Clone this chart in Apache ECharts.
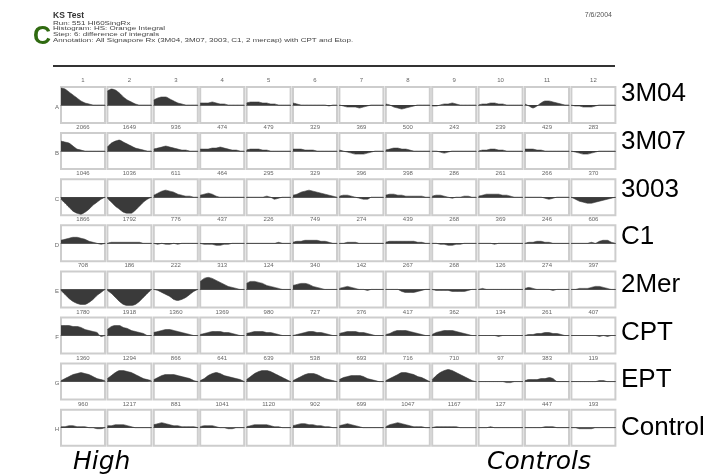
<!DOCTYPE html>
<html>
<head>
<meta charset="utf-8">
<script src="https://cdn.jsdelivr.net/npm/echarts@6/dist/echarts.min.js"></script>
<style>
  html, body { margin: 0; padding: 0; background: #fff; }
  #chart { width: 709px; height: 475px; }
</style>
</head>
<body>
<div id="chart"></div>
<script>
// column numbers, row letters, compound names
const colLabels = ['1','2','3','4','5','6','7','8','9','10','11','12'];
const rowLetters = ['A','B','C','D','E','F','G','H'];
const rowNames = ['3M04','3M07','3003','C1','2Mer','CPT','EPT','Control'];

// counts printed under each cell (rows A..G)
const countsA = [2066,1649,936,474,479,329,369,500,243,239,429,283];
const countsB = [1046,1036,611,464,295,329,396,398,286,261,266,370];
const countsC = [1866,1792,776,437,226,749,274,439,268,369,246,606];
const countsD = [708,186,222,313,124,340,142,267,268,126,274,397];
const countsE = [1780,1918,1360,1369,980,727,376,417,362,134,261,407];
const countsF = [1360,1294,866,641,639,538,693,716,710,97,383,119];
const countsG = [960,1217,881,1041,1120,902,699,1047,1167,127,447,193];

// difference-of-integrals curves, 12 samples per cell
const rowA = [
  [17,16,13,10,7,4,2,1,0,0,0,0],
  [14,16,15,12,8,5,3,1,0,0,0,0],
  [5,7,8,8,6,4,2,1,0,0,0,0],
  [2,2,2,3,2,1,1,0,0,0,0,0],
  [2,3,3,3,2,2,1,1,0,0,0,0],
  [2,1,0,0,0,0,0,0,0,-1,0,0],
  [0,-1,-2,-2,-2,-3,-2,-1,0,0,0,0],
  [1,0,-2,-3,-4,-3,-2,-1,0,0,0,0],
  [-1,-1,0,1,1,2,1,0,0,0,0,0],
  [0,1,1,2,2,1,1,0,0,0,0,0],
  [1,-1,-3,-1,2,4,4,3,2,1,0,0],
  [0,-1,-1,-2,-2,-2,-1,0,0,0,0,0]
];
const rowB = [
  [10,9,8,5,2,1,0,0,0,0,0,0],
  [4,8,10,11,9,7,5,3,2,1,0,0],
  [2,3,4,5,4,3,2,1,1,0,0,0],
  [2,2,2,3,3,4,3,2,1,1,0,0],
  [1,2,2,2,1,1,0,0,0,0,0,0],
  [2,2,2,1,1,1,0,0,0,0,0,0],
  [1,0,-1,-2,-3,-3,-3,-2,-1,0,0,0],
  [1,2,3,3,2,2,1,0,0,0,0,0],
  [0,0,-1,-2,-1,0,0,0,0,0,0,0],
  [0,1,1,2,2,1,1,0,0,0,0,0],
  [2,2,2,1,1,0,0,0,0,0,0,0],
  [0,-1,-2,-3,-3,-2,-1,0,0,0,0,0]
];
const rowC = [
  [-2,-6,-10,-14,-16,-17,-15,-12,-8,-5,-2,0],
  [-1,-5,-9,-12,-15,-16,-16,-13,-9,-5,-2,0],
  [2,4,6,7,6,5,3,2,1,1,0,0],
  [2,3,4,3,1,0,0,0,0,0,0,0],
  [0,0,0,0,0,1,0,-2,-1,0,0,0],
  [2,3,5,6,7,6,5,4,3,2,1,0],
  [1,2,2,1,0,-1,-2,-2,0,0,0,0],
  [2,3,3,2,2,1,1,1,1,1,0,0],
  [1,2,2,1,0,-1,0,0,1,1,0,0],
  [1,2,3,3,3,3,2,2,1,0,0,0],
  [0,0,0,0,0,-1,-2,-1,0,0,0,0],
  [0,-2,-4,-5,-6,-6,-5,-4,-3,-2,-1,0]
];
const rowD = [
  [3,4,5,6,6,5,4,2,1,0,-1,0],
  [0,1,1,1,1,1,1,1,1,0,0,0],
  [0,-1,0,-1,-1,0,-1,0,0,0,0,0],
  [0,-1,-1,-1,-2,-2,-1,-1,0,0,0,0],
  [0,0,0,0,0,0,0,0,1,0,0,0],
  [1,2,2,3,3,3,3,2,2,1,0,0],
  [0,0,1,1,1,0,0,0,0,0,0,0],
  [1,2,2,2,2,2,2,2,1,1,0,0],
  [0,0,-1,-1,-2,-2,-1,-1,0,0,0,0],
  [0,0,0,0,-1,0,0,0,0,0,0,0],
  [0,1,1,2,2,1,1,0,0,0,0,0],
  [0,0,0,0,0,1,0,2,3,3,1,0]
];
const rowE = [
  [-1,-5,-9,-12,-14,-15,-15,-13,-10,-6,-3,0],
  [-1,-4,-8,-12,-15,-16,-16,-15,-12,-8,-4,0],
  [0,-1,-3,-5,-7,-10,-11,-10,-8,-5,-2,0],
  [8,11,12,11,9,7,5,3,2,1,0,0],
  [6,8,8,7,6,4,3,2,1,0,0,0],
  [4,5,6,6,5,3,2,1,0,0,0,0],
  [1,2,3,2,1,0,0,-1,0,0,0,0],
  [0,0,0,0,-2,-3,-3,-3,-2,-1,0,0],
  [0,-1,-1,-1,-1,-2,-2,-2,-2,-1,0,0],
  [0,1,0,0,0,0,0,0,0,0,0,0],
  [1,2,1,0,0,0,0,-1,0,0,0,0],
  [0,0,1,1,1,2,3,3,2,1,0,0]
];
const rowF = [
  [10,10,10,9,9,8,6,5,4,3,-1,0],
  [6,9,10,10,8,7,5,4,3,2,0,0],
  [3,4,5,6,6,5,4,3,2,1,0,0],
  [1,2,3,4,4,4,3,3,2,1,0,0],
  [2,3,4,4,4,3,3,2,1,0,0,0],
  [0,1,2,3,4,4,3,3,2,1,0,0],
  [2,3,4,4,4,3,3,2,1,0,0,0],
  [1,2,4,5,5,5,4,3,2,1,0,0],
  [1,3,4,5,5,5,4,3,2,1,0,0],
  [0,0,0,0,0,-1,0,0,0,0,0,0],
  [0,1,1,2,2,3,3,2,2,1,0,0],
  [0,0,0,0,0,0,0,-1,0,-1,0,0]
];
const rowG = [
  [1,3,5,7,8,9,8,7,5,3,2,1],
  [3,6,9,11,11,10,9,7,5,3,2,1],
  [2,4,6,7,7,7,6,5,4,3,1,0],
  [1,3,6,8,9,8,6,5,4,3,2,0],
  [2,5,8,10,11,11,10,8,6,4,2,0],
  [1,3,5,7,8,8,7,5,3,2,1,0],
  [2,4,5,6,6,6,5,3,2,1,0,0],
  [1,3,5,7,9,9,8,7,5,4,2,0],
  [2,6,9,11,12,11,9,7,5,3,1,0],
  [0,0,0,0,0,0,0,-1,-1,0,0,0],
  [1,2,2,2,3,3,4,3,0,0,0,0],
  [0,0,0,0,0,0,0,1,1,0,0,0]
];
const rowH = [
  [1,1,2,2,1,1,1,0,0,-1,-1,0],
  [2,2,3,3,3,2,1,0,0,0,0,0],
  [3,4,5,4,3,2,2,1,1,1,1,0],
  [1,2,2,2,1,0,0,-1,-1,0,0,0],
  [1,2,3,3,3,3,2,1,1,0,0,0],
  [2,3,4,4,3,3,2,2,1,1,0,0],
  [2,3,4,3,2,1,0,0,0,0,0,0],
  [1,3,4,5,4,3,2,1,1,1,0,0],
  [0,1,1,1,1,1,1,0,0,0,0,0],
  [0,0,0,1,0,0,0,0,0,0,0,0],
  [0,0,0,0,0,1,1,1,0,0,0,0],
  [0,0,-1,-1,-1,-1,0,0,0,0,0,0]
];

const rows = [rowA, rowB, rowC, rowD, rowE, rowF, rowG, rowH];
const counts = [countsA, countsB, countsC, countsD, countsE, countsF, countsG];

// layout of the plate
const X0 = 61, DX = 46.4, CW = 44;
const Y0 = 87, DY = 46.1, CH = 36;
const small = '6px "Liberation Sans", Arial, sans-serif';

let grid = [], xAxis = [], yAxis = [], series = [], graphic = [];
const samples = rows[0][0].map((v, i) => i);

rows.forEach((row, r) => {
    row.forEach((vals, c) => {
        let k = grid.length;
        grid.push({
            left: X0 + c * DX, top: Y0 + r * DY, width: CW, height: CH,
            show: true, borderColor: '#cdcdcd', borderWidth: 2, backgroundColor: '#fff'
        });
        xAxis.push({
            gridIndex: k, type: 'category', data: samples, boundaryGap: false,
            axisLine: { onZero: true, lineStyle: { color: '#666', width: 1 } },
            axisTick: { show: false }, axisLabel: { show: false }, splitLine: { show: false }
        });
        yAxis.push({
            gridIndex: k, type: 'value', min: -18, max: 18, show: false
        });
        series.push({
            type: 'line', xAxisIndex: k, yAxisIndex: k, data: vals,
            symbol: 'none', smooth: 0.2, silent: true,
            lineStyle: { color: '#3a3a3a', width: 0.6 },
            areaStyle: { color: '#3a3a3a', opacity: 1 }
        });
    });
    // row letter
    graphic.push({ type: 'text', style: { x: 57, y: Y0 + r * DY + CH / 2 + 2, text: rowLetters[r],
        font: small, fill: '#666', align: 'center', verticalAlign: 'middle' } });
    // compound name
    graphic.push({ type: 'text', style: { x: 621, y: 94 + r * 47.7, text: rowNames[r],
        font: '26px "Liberation Sans", Arial, sans-serif', fill: '#000', align: 'left', verticalAlign: 'middle' } });
});

colLabels.forEach((t, c) => {
    graphic.push({ type: 'text', style: { x: X0 + c * DX + CW / 2, y: 80, text: t,
        font: small, fill: '#666', align: 'center', verticalAlign: 'middle' } });
});

counts.forEach((row, r) => {
    row.forEach((n, c) => {
        graphic.push({ type: 'text', style: { x: X0 + c * DX + CW / 2, y: Y0 + r * DY + CH + 4.5, text: String(n),
            font: small, fill: '#666', align: 'center', verticalAlign: 'middle' } });
    });
});

// header
const header = [
    'Run: 551 HI60SingRx',
    'Histogram: HS: Orange Integral',
    'Step: 6: difference of integrals',
    'Annotation: All Signapore Rx (3M04, 3M07, 3003, C1, 2 mercap) with CPT and Etop.'
];
graphic.push({ type: 'text', style: { x: 33, y: 37, text: 'C',
    font: 'bold 25px "Liberation Sans", Arial, sans-serif', fill: '#2f6a10', align: 'left', verticalAlign: 'middle' } });
graphic.push({ type: 'text', style: { x: 53, y: 16, text: 'KS Test',
    font: 'bold 8.5px "Liberation Sans", Arial, sans-serif', fill: '#333', align: 'left', verticalAlign: 'middle' } });
header.forEach((t, i) => {
    // header lines are stretched wide in the original print
    graphic.push({ type: 'text', x: 53, y: 23 + i * 5.7, scaleX: 1.38,
        style: { x: 0, y: 0, text: t, font: '5.8px "Liberation Sans", Arial, sans-serif', fill: '#444',
            align: 'left', verticalAlign: 'middle' } });
});
graphic.push({ type: 'text', style: { x: 612, y: 15, text: '7/6/2004',
    font: '7px "Liberation Sans", Arial, sans-serif', fill: '#555', align: 'right', verticalAlign: 'middle' } });
graphic.push({ type: 'line', shape: { x1: 53, y1: 66, x2: 615, y2: 66 },
    style: { stroke: '#333', lineWidth: 2 } });

// footer
graphic.push({ type: 'text', style: { x: 73, y: 462, text: 'High',
    font: 'italic 25px "DejaVu Sans", sans-serif', fill: '#000', align: 'left', verticalAlign: 'middle' } });
graphic.push({ type: 'text', style: { x: 487, y: 462, text: 'Controls',
    font: 'italic 25px "DejaVu Sans", sans-serif', fill: '#000', align: 'left', verticalAlign: 'middle' } });

let option = {
    backgroundColor: '#fff',
    animation: false,
    grid: grid,
    xAxis: xAxis,
    yAxis: yAxis,
    series: series,
    graphic: graphic
};

echarts.init(document.getElementById('chart')).setOption(option);
</script>
</body>
</html>
